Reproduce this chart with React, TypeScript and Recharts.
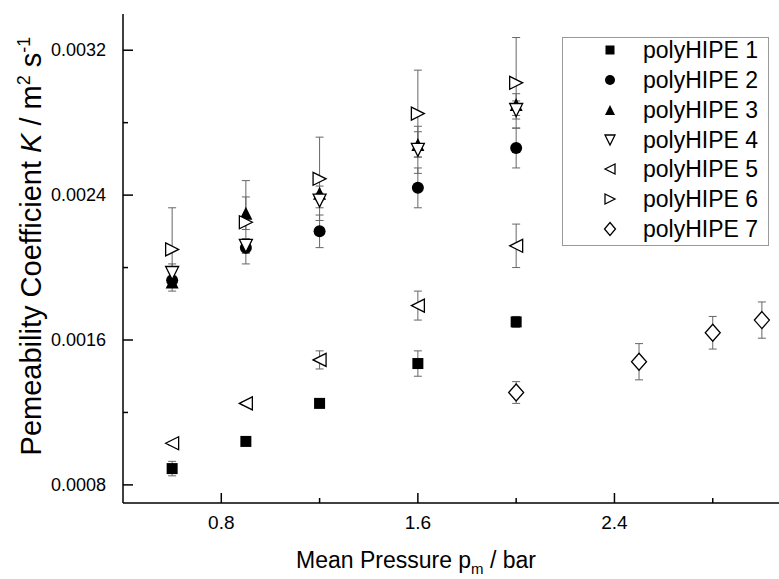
import React from 'react';
import { ScatterChart, Scatter, XAxis, YAxis, ErrorBar, Legend } from 'recharts';

const FONT = '"Liberation Sans", Arial, sans-serif';

// mean pressure (bar)
const pressures = [0.6, 0.9, 1.2, 1.6, 2.0];
const pressures7 = [2.0, 2.5, 2.8, 3.0];

// permeability K (m^2 s^-1) and error
const hipe1 = [0.00089, 0.00104, 0.00125, 0.00147, 0.0017];
const hipe1Err = [0.00004, 0.00001, 0.00001, 0.00007, 0.00003];
const hipe2 = [0.00193, 0.00211, 0.0022, 0.00244, 0.00266];
const hipe2Err = [0.00002, 0.00003, 0.00009, 0.00011, 0.00011];
const hipe3 = [0.00192, 0.0023, 0.00241, 0.00268, 0.0029];
const hipe3Err = [0.00002, 0.00009, 0.00004, 0.00007, 0.00006];
const hipe4 = [0.00197, 0.00212, 0.00237, 0.00265, 0.00287];
const hipe4Err = [0.00005, 0.00004, 0.00004, 0.00013, 0.00005];
const hipe5 = [0.00103, 0.00125, 0.00149, 0.00179, 0.00212];
const hipe5Err = [0.00001, 0.00001, 0.00005, 0.00008, 0.00012];
const hipe6 = [0.0021, 0.00225, 0.00249, 0.00285, 0.00302];
const hipe6Err = [0.00023, 0.00023, 0.00023, 0.00024, 0.00025];
const hipe7 = [0.00131, 0.00148, 0.00164, 0.00171];
const hipe7Err = [0.00006, 0.0001, 0.00009, 0.0001];

const xTicks = [0.8, 1.2, 1.6, 2.0, 2.4, 2.8];
const yTicks = [0.0008, 0.0012, 0.0016, 0.002, 0.0024, 0.0028, 0.0032];

const toRows = (xs: number[], ys: number[], es: number[]) =>
  xs.map((x, i) => ({ x, y: ys[i], err: es[i] }));

const series = [
  { name: 'polyHIPE 1', kind: 'square', data: toRows(pressures, hipe1, hipe1Err) },
  { name: 'polyHIPE 2', kind: 'circle', data: toRows(pressures, hipe2, hipe2Err) },
  { name: 'polyHIPE 3', kind: 'up', data: toRows(pressures, hipe3, hipe3Err) },
  { name: 'polyHIPE 4', kind: 'down', data: toRows(pressures, hipe4, hipe4Err) },
  { name: 'polyHIPE 5', kind: 'left', data: toRows(pressures, hipe5, hipe5Err) },
  { name: 'polyHIPE 6', kind: 'right', data: toRows(pressures, hipe6, hipe6Err) },
  { name: 'polyHIPE 7', kind: 'diamond', data: toRows(pressures7, hipe7, hipe7Err) },
];

const Marker = ({ kind, cx, cy, s }: { kind: string; cx: number; cy: number; s: number }) => {
  const h = s / 2;
  const open = { fill: '#fff', stroke: '#000', strokeWidth: 1.3 };
  switch (kind) {
    case 'square':
      return <rect x={cx - h} y={cy - h} width={s} height={s} fill="#000" />;
    case 'circle':
      return <circle cx={cx} cy={cy} r={h} fill="#000" />;
    case 'up':
      return <polygon points={`${cx},${cy - h} ${cx - h},${cy + h} ${cx + h},${cy + h}`} fill="#000" />;
    case 'down':
      return <polygon points={`${cx - h},${cy - h} ${cx + h},${cy - h} ${cx},${cy + h}`} {...open} />;
    case 'left':
      return <polygon points={`${cx - h},${cy} ${cx + h},${cy - h} ${cx + h},${cy + h}`} {...open} />;
    case 'right':
      return <polygon points={`${cx - h},${cy - h} ${cx + h},${cy} ${cx - h},${cy + h}`} {...open} />;
    default:
      return <polygon points={`${cx},${cy - h - 1} ${cx + h},${cy} ${cx},${cy + h + 1} ${cx - h},${cy}`} {...open} />;
  }
};

const sizes: Record<string, number> = { square: 11, circle: 12, up: 13, down: 13, left: 13, right: 13, diamond: 15 };

const makeShape = (kind: string) => (props: any) =>
  <Marker kind={kind} cx={props.cx} cy={props.cy} s={sizes[kind]} />;

const isMajorX = (v: number) => Math.round(v * 10) % 8 === 0;
const isMajorY = (v: number) => Math.round(v * 10000) % 8 === 0;

const BottomTick = (props: any) => {
  const { x, y, payload } = props;
  const major = isMajorX(payload.value);
  return (
    <g>
      <line x1={x} x2={x} y1={y} y2={y - (major ? 10 : 5)} stroke="#000" strokeWidth={1.5} />
      {major && (
        <text x={x} y={y + 26} textAnchor="middle" fontSize={19} fontFamily={FONT} fill="#000">
          {payload.value.toFixed(1)}
        </text>
      )}
    </g>
  );
};

const TopTick = (props: any) => {
  const { x, y, payload } = props;
  const major = isMajorX(payload.value);
  return <line x1={x} x2={x} y1={y} y2={y + (major ? 10 : 5)} stroke="#000" strokeWidth={1.5} />;
};

const LeftTick = (props: any) => {
  const { x, y, payload } = props;
  const major = isMajorY(payload.value);
  return (
    <g>
      <line x1={x} x2={x + (major ? 10 : 5)} y1={y} y2={y} stroke="#000" strokeWidth={1.5} />
      {major && (
        <text x={x - 17} y={y + 6} textAnchor="end" fontSize={18} fontFamily={FONT} fill="#000">
          {payload.value.toFixed(4)}
        </text>
      )}
    </g>
  );
};

const RightTick = (props: any) => {
  const { x, y, payload } = props;
  const major = isMajorY(payload.value);
  return <line x1={x} x2={x - (major ? 10 : 5)} y1={y} y2={y} stroke="#000" strokeWidth={1.5} />;
};

const XLabel = () => (
  <text x={416} y={568} textAnchor="middle" fontSize={23} fontFamily={FONT} fill="#000">
    {'Mean Pressure p'}
    <tspan dy={6} fontSize={15}>m</tspan>
    <tspan dy={-6}>{' / bar'}</tspan>
  </text>
);

const YLabel = () => (
  <text transform="translate(41, 246) rotate(-90)" textAnchor="middle" fontSize={29} fontFamily={FONT} fill="#000">
    {'Pemeability Coefficient '}
    <tspan fontStyle="italic">K</tspan>
    {' / m'}
    <tspan dy={-11} fontSize={18}>2</tspan>
    <tspan dy={11}>{' s'}</tspan>
    <tspan dy={-11} fontSize={18}>-1</tspan>
  </text>
);

const LegendBox = () => (
  <div
    style={{
      width: 207,
      height: 209,
      boxSizing: 'border-box',
      border: '1px solid #999',
      background: '#fff',
      fontFamily: FONT,
      fontSize: 23,
      color: '#000',
      position: 'relative',
    }}
  >
    {series.map((s, i) => (
      <div key={s.name} style={{ position: 'absolute', left: 0, top: 12.4 + i * 29.7 - 15, height: 30, width: '100%' }}>
        <svg width={20} height={20} style={{ position: 'absolute', left: 37, top: 5 }}>
          <Marker kind={s.kind} cx={10} cy={10} s={s.kind === 'square' ? 9 : s.kind === 'diamond' ? 11 : 10} />
        </svg>
        <span style={{ position: 'absolute', left: 80, top: 0, lineHeight: '30px', whiteSpace: 'nowrap' }}>{s.name}</span>
      </div>
    ))}
  </div>
);

export default function App() {
  return (
    <div style={{ position: 'absolute', left: 0, top: 0, width: 779, height: 579, overflow: 'hidden', background: '#fff' }}>
      <ScatterChart width={784} height={579} margin={{ top: 14, right: 0, bottom: 0, left: 0 }}>
        <XAxis
          xAxisId={0}
          type="number"
          dataKey="x"
          domain={[0.4, 3.09]}
          allowDataOverflow
          ticks={xTicks}
          interval={0}
          height={76}
          tickSize={0}
          tickMargin={0}
          tick={BottomTick}
          axisLine={{ stroke: '#000', strokeWidth: 1.5 }}
          label={{ content: XLabel }}
        />
        <XAxis
          xAxisId="top"
          orientation="top"
          type="number"
          dataKey="x"
          domain={[0.4, 3.09]}
          allowDataOverflow
          ticks={xTicks}
          interval={0}
          height={0}
          tickSize={0}
          tickMargin={0}
          tick={TopTick}
          axisLine={{ stroke: '#000', strokeWidth: 1.5 }}
        />
        <YAxis
          yAxisId={0}
          type="number"
          dataKey="y"
          domain={[0.0007, 0.0034]}
          allowDataOverflow
          ticks={yTicks}
          interval={0}
          width={123}
          tickSize={0}
          tickMargin={0}
          tick={LeftTick}
          axisLine={{ stroke: '#000', strokeWidth: 1.5 }}
          label={{ content: YLabel }}
        />
        <YAxis
          yAxisId="right"
          orientation="right"
          type="number"
          dataKey="y"
          domain={[0.0007, 0.0034]}
          allowDataOverflow
          ticks={yTicks}
          interval={0}
          width={0}
          tickSize={0}
          tickMargin={0}
          tick={RightTick}
          axisLine={{ stroke: '#000', strokeWidth: 1.5 }}
        />
        <Legend
          layout="vertical"
          align="center"
          verticalAlign="middle"
          content={LegendBox}
          wrapperStyle={{ position: 'absolute', left: 562, top: 37, right: 'auto', bottom: 'auto', width: 207, height: 209 }}
        />
        {series.map((s) => (
          <Scatter
            key={s.name}
            name={s.name}
            data={s.data}
            xAxisId={0}
            yAxisId={0}
            shape={makeShape(s.kind)}
            isAnimationActive={false}
          >
            <ErrorBar dataKey="err" direction="y" width={4} stroke="#666" strokeWidth={1} />
          </Scatter>
        ))}
      </ScatterChart>
    </div>
  );
}
